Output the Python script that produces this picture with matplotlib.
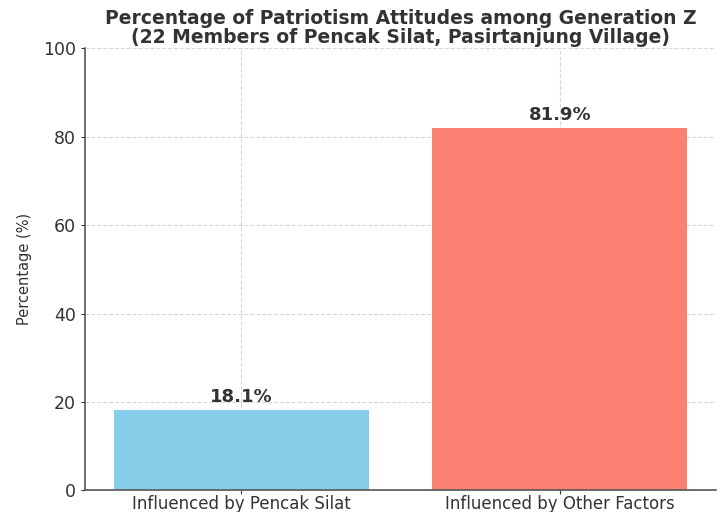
import matplotlib
matplotlib.use("Agg")
import matplotlib.pyplot as plt

categories = ["Influenced by Pencak Silat", "Influenced by Other Factors"]
values = [18.1, 81.9]
colors = ["skyblue", "salmon"]

fig = plt.figure(figsize=(7.27, 5.12), dpi=100)
ax = fig.add_axes([0.117, 0.042, 0.868, 0.864])

bars = ax.bar(categories, values, color=colors, width=0.8, zorder=2)
for b, v in zip(bars, values):
    ax.text(b.get_x() + b.get_width() / 2, v + 1, f"{v}%", ha="center", va="bottom",
            fontsize=13, fontweight="bold", color="#333333")

ax.set_ylim(0, 100)
ax.set_ylabel("Percentage (%)", fontsize=10.5, labelpad=8, color="#333333")
ax.set_title("Percentage of Patriotism Attitudes among Generation Z\n(22 Members of Pencak Silat, Pasirtanjung Village)",
             fontsize=13.5, fontweight="bold", color="#333333", pad=4, linespacing=1.0)
ax.grid(True, linestyle="--", alpha=0.5, zorder=0)
ax.spines["top"].set_visible(False)
ax.spines["right"].set_visible(False)
for s in ["left", "bottom"]:
    ax.spines[s].set_color("#555555")
    ax.spines[s].set_linewidth(1.2)
ax.tick_params(axis="x", labelsize=12, pad=0.5, length=3, colors="#333333")
ax.tick_params(axis="y", labelsize=12.5, length=3, colors="#333333")

fig.savefig("out.png", dpi=100)
